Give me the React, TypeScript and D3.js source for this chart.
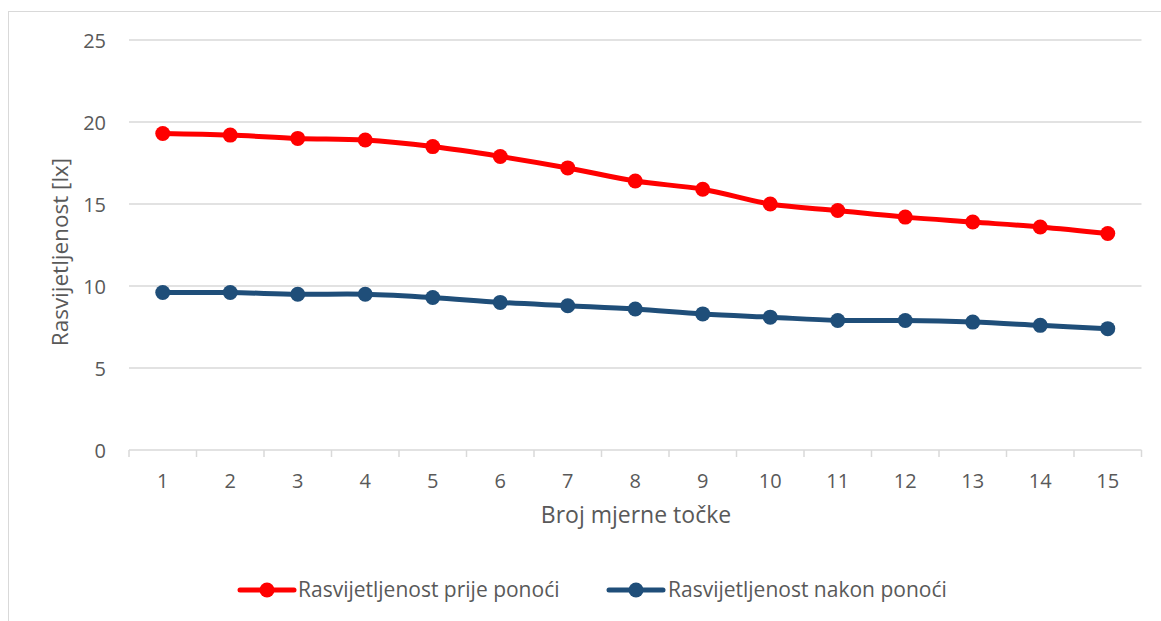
import React from "react";
import * as d3 from "d3";

const categories = ["1","2","3","4","5","6","7","8","9","10","11","12","13","14","15"];
const beforeMidnight = [19.3, 19.2, 19.0, 18.9, 18.5, 17.9, 17.2, 16.4, 15.9, 15.0, 14.6, 14.2, 13.9, 13.6, 13.2];
const afterMidnight = [9.6, 9.6, 9.5, 9.5, 9.3, 9.0, 8.8, 8.6, 8.3, 8.1, 7.9, 7.9, 7.8, 7.6, 7.4];
const yTicks = [0, 5, 10, 15, 20, 25];
const seriesNames = ["Rasvijetljenost prije ponoći", "Rasvijetljenost nakon ponoći"];
const seriesColors = ["#ff0000", "#1f4e79"];

const W = 1161, H = 621;
const FONT = "'Open Sans', Lato, sans-serif";
const TXT = "#595959";

export default function App() {
  const x = d3.scaleBand<string>().domain(categories).range([129, 1141.5]);
  const y = d3.scaleLinear().domain([0, 25]).range([450, 40]);
  const cx = (c: string) => (x(c) as number) + x.bandwidth() / 2;
  const line = d3.line<number>()
    .x((_, i) => cx(categories[i]))
    .y((v) => y(v))
    .curve(d3.curveCatmullRom.alpha(0.5));
  const series = [beforeMidnight, afterMidnight];
  const boundaries = [...categories.map((c) => x(c) as number), 1141.5];

  const legendItems = [
    { lineX: 240, textX: 298 },
    { lineX: 609, textX: 668 },
  ];

  return (
    <svg width={W} height={H} style={{ position: "absolute", left: 0, top: 0, background: "#fff" }}>
      <rect x={8.5} y={11.5} width={W} height={H} fill="#fff" stroke="#d9d9d9" strokeWidth={1} />
      {yTicks.map((t) => (
        <g key={t}>
          {t !== 0 && (
            <line x1={129} x2={1141.5} y1={y(t)} y2={y(t)} stroke="#d9d9d9" strokeWidth={1.5} />
          )}
          <text x={106} y={y(t) + 7.5} textAnchor="end" fontFamily={FONT} fontSize={20} fill={TXT}>
            {t}
          </text>
        </g>
      ))}
      <line x1={129} x2={1141.5} y1={450} y2={450} stroke="#d9d9d9" strokeWidth={1.5} />
      {boundaries.map((b, i) => (
        <line key={i} x1={b} x2={b} y1={450} y2={457} stroke="#d9d9d9" strokeWidth={1.5} />
      ))}
      {categories.map((c) => (
        <text key={c} x={cx(c)} y={488} textAnchor="middle" fontFamily={FONT} fontSize={20} fill={TXT}>
          {c}
        </text>
      ))}
      <text x={636} y={523} textAnchor="middle" fontFamily={FONT} fontSize={23} fill={TXT}>
        Broj mjerne točke
      </text>
      <text
        transform={`translate(68,252) rotate(-90)`}
        textAnchor="middle"
        fontFamily={FONT}
        fontSize={22.5}
        fill={TXT}
      >
        Rasvijetljenost [lx]
      </text>
      {series.map((s, si) => (
        <g key={si}>
          <path d={line(s) || ""} fill="none" stroke={seriesColors[si]} strokeWidth={5} strokeLinecap="round" />
          {s.map((v, i) => (
            <circle key={i} cx={cx(categories[i])} cy={y(v)} r={7.5} fill={seriesColors[si]} />
          ))}
        </g>
      ))}
      {legendItems.map((li, si) => (
        <g key={si}>
          <line x1={li.lineX} x2={li.lineX + 54} y1={590} y2={590} stroke={seriesColors[si]} strokeWidth={5} strokeLinecap="round" />
          <circle cx={li.lineX + 27} cy={590} r={7.5} fill={seriesColors[si]} />
          <text x={li.textX} y={597} fontFamily={FONT} fontSize={21} fill={TXT}>
            {seriesNames[si]}
          </text>
        </g>
      ))}
    </svg>
  );
}
